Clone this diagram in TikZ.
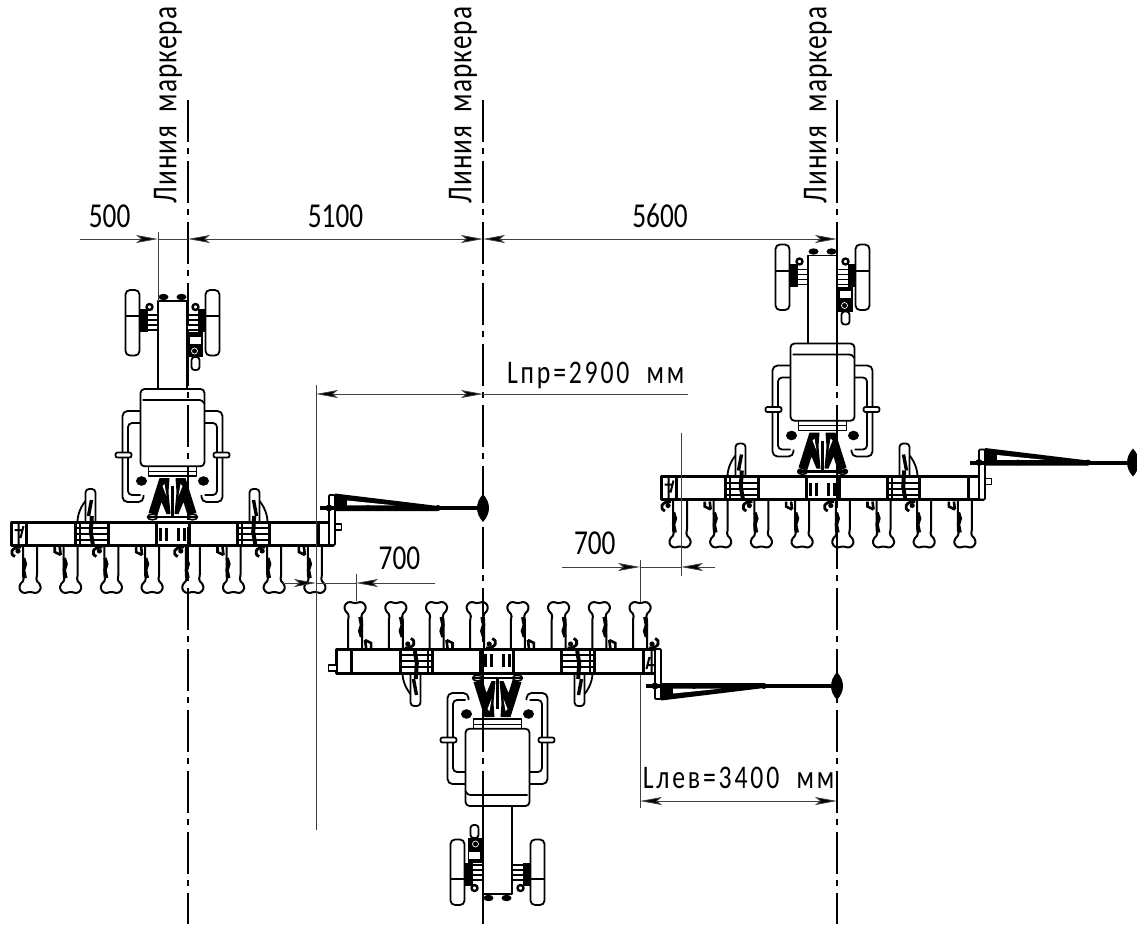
\documentclass[tikz,border=0pt]{standalone}
\usepackage{fontspec}
\setmainfont[FakeStretch=0.78]{Carlito}
\newfontfamily\widefont[FakeStretch=0.78,LetterSpace=8.5,WordSpace=2]{Carlito}
\newfontfamily\markerfont[FakeStretch=0.78,LetterSpace=3,WordSpace=1.8]{Carlito}
\usetikzlibrary{arrows.meta}

\tikzset{
  part/.style={draw=black,fill=white,line width=1.8pt,line join=round},
  tractor/.pic={
    \foreach \s in {-1,1} {
      \begin{scope}[xscale=\s]
        % wheel and axle
        \draw[part,rounded corners=4.5] (33,-232) rectangle (47,-166.5);
        \draw[part] (33,-205.7) -- (47,-205.7);
        \fill (25,-213) rectangle (33,-190);
        \draw[line width=1.6pt] (14,-207) -- (27,-207) (14,-202) -- (27,-202) (14,-197) -- (27,-197) (14,-192) -- (27,-192);
        \draw[part,line width=2.4pt] (23,-215) circle (3);
        \fill (9,-225) ellipse (5 and 3.2);
        % fender
        \draw[part,fill=none,rounded corners=5] (32,-111) -- (50,-111) -- (50,-20) -- (29,-20) -- (29,-27);
        \draw[part,fill=none,rounded corners=4] (32,-99) -- (44.5,-99) -- (44.5,-27) -- (32,-27);
        \draw[part,rounded corners=2] (41,-69.5) rectangle (57,-64.5);
        % linkage
        \fill (3,-44) -- (13,-44) -- (24,-9) -- (15,-7) -- (11,-20) -- (6,-8) -- (2,-8) -- (4,-30) -- cycle;
        \fill[white] (8,-38) -- (10,-36) -- (6,-26) -- cycle;
        \fill (31,-41) ellipse (5.5 and 4.8);
        \draw[part,line width=1.6pt] (20,-5) ellipse (5 and 2.8);
      \end{scope}
    }
    % frame
    \draw[part] (-14.2,-134) -- (-14.2,-221) -- (14.2,-221) -- (14.2,-134);
    % hitch, on one side only
    \fill (15,-190) rectangle (30,-165);
    \draw[part,line width=1pt] (17,-186) rectangle (29,-178);
    \draw[draw=white,line width=.7pt] (22,-171) circle (3);
    \draw[part,rounded corners=3] (19,-165) rectangle (27,-152);
    % hood
    \draw[part] (-24,-56) rectangle (24,-46);
    \draw[part,line width=1pt] (-24,-51) -- (24,-51);
    \draw[part,rounded corners=4] (-32,-133) rectangle (32,-55.7);
    \draw[part,rounded corners=3] (-30,-122) -- (30,-122) -- (32,-118);
    \draw[line width=2.4pt] (0,-36) -- (0,-6);
    \draw[line width=2.4pt] (-25,-5) -- (25,-5);
  },
  seeder/.pic={
    % row units
    \foreach \k in {0,...,7} {
      \pgfmathsetmacro\cx{-142.5+40.7*\k}
      \begin{scope}[xshift=\cx pt]
        \draw[part,line width=2pt,rounded corners=1.5] (-7,23) -- (-7,54) -- (-6,58) -- (-10.5,63) -- (-10.5,68) -- (-6,71.5) -- (-2,70) -- (2,70) -- (6,71.5) -- (10.5,68) -- (10.5,63) -- (6,58) -- (7,54) -- (7,23);
        \draw[line width=3.4pt] (-6.4,36) -- (-4.6,42) -- (-6.4,48) -- (-4.8,56);
        \ifodd\k
          \draw[line width=2.6pt] (-16,25) -- (-16,30) -- (-10,33) (-11,25) -- (-10,33);
        \else
          \draw[line width=2.8pt] (-9,25) .. controls (-19,25) and (-21,32) .. (-15,34.5);
          \fill (-12,29) circle (2.6);
        \fi
      \end{scope}
    }
    % folded sections
    \foreach \s in {-1,1} {
      \begin{scope}[xscale=\s]
        \draw[line width=1.8pt] (95,0) .. controls (95,-8) and (91,-17) .. (86,-22);
        \draw[part,rounded corners=3.5] (77,0) -- (77,-33) -- (87,-33) -- (87,0);
        \draw[line width=3.4pt] (81,-22) -- (84,-6);
      \end{scope}
    }
    % hoppers
    \draw[part,line width=3pt] (-161,0) rectangle (161,23.3);
    \foreach \a in {-146,-64.3,16.7,97.3} {
      \draw[part,line width=3pt] (\a,0) rectangle ++(48.7,23.3);
    }
    % couplings between the hoppers
    \foreach \a in {-96.7,65.7} {
      \draw[line width=2pt] (\a,6) -- ++(32,0) (\a,12) -- ++(32,0) (\a,18) -- ++(32,0);
      \draw[line width=4pt] (\a+16,-6) -- (\a+15,10) -- (\a+17,22);
      \draw[line width=2.4pt] (\a+4,0) -- (\a+4,23);
    }
    \foreach \a in {-12,-6,6,12} {
      \draw[line width=2.4pt] (\a,6) -- (\a,19);
    }
    % ends of the beam
    \draw[line width=2pt] (-154,0) -- (-154,23) (-158,8) -- (-150,8) (-149,4) -- (-152,16);
    \draw[part,line width=1.8pt] (161,2) rectangle (169,8);
  },
  pics/boom/.style={code={
    \draw[part,rounded corners=1] (6,-13) rectangle (12,37);
    \fill (12,-14.5) -- (115,-2) -- (115,3) -- (12,3) -- cycle;
    \fill[white] (24,-7.5) -- (72,-2.6) -- (24,-2.6) -- cycle;
    \draw[line width=4pt] (-3,0) -- (#1,0);
    \fill (6,0) circle (3.5) (45,0) circle (3) (115,0) circle (3);
    \fill (#1,-14) .. controls (#1+8,-5) and (#1+8,5) .. (#1,14) .. controls (#1-8,5) and (#1-8,-5) .. cycle;
  }},
}

\begin{document}
\begin{tikzpicture}[
    x=1pt,y=-1pt,
    >={Stealth[length=22pt,width=8pt,inset=5pt]},
    centerline/.style={line width=2.4pt,dash pattern=on 42pt off 6pt on 6pt off 7pt},
    dimline/.style={draw=black!75,line width=.8pt},
    dimtext/.style={font=\fontsize{35}{35}\selectfont,inner sep=0pt,text depth=0pt},
    widetext/.style={font=\widefont\fontsize{33}{33}\selectfont,inner sep=0pt,text depth=0pt},
    markertext/.style={font=\markerfont\fontsize{35}{35}\selectfont,inner sep=0pt,rotate=90}
    ]
\useasboundingbox (0,0) rectangle (1137,924);

% extension line that runs behind the middle machine
\coordinate (ext640top) at (640,560);
\coordinate (ext640bot) at (640,808);
\draw[dimline] (ext640top) -- (ext640bot);

% machines
\pic (leftunit) at (172.5,522) {tractor};
\pic (leftseeder) at (172.5,522) {seeder};
\pic (leftboom) at (323,508) {boom=160};
\pic (rightunit) at (822.5,476.5) {tractor};
\pic (rightseeder) at (822.5,476.5) {seeder};
\pic (rightboom) at (973,462.5) {boom=160};
\pic[rotate=180] (midunit) at (497.5,673) {tractor};
\pic[rotate=180] (midseeder) at (497.5,673) {seeder};
\pic[yscale=-1] (midboom) at (649,686) {boom=188};

% marker lines
\coordinate (line1top) at (188,100);
\coordinate (line1bot) at (188,924);
\coordinate (line2top) at (483,100);
\coordinate (line2bot) at (483,924);
\coordinate (line3top) at (837,100);
\coordinate (line3bot) at (837,924);
\draw[centerline] (line1top) -- (line1bot);
\draw[centerline] (line2top) -- (line2bot);
\draw[centerline] (line3top) -- (line3bot);
\node[markertext] (marker1) at (168,105) {Линия маркера};
\node[markertext] (marker2) at (463,105) {Линия маркера};
\node[markertext] (marker3) at (818,105) {Линия маркера};

% top dimensions
\coordinate (d0) at (80,239);
\coordinate (d1) at (158,239);
\coordinate (d2) at (188,239);
\coordinate (d3) at (483,239);
\coordinate (d4) at (837,239);
\coordinate (ext158) at (158,232);
\coordinate (ext158bot) at (158,302);
\draw[dimline] (ext158) -- (ext158bot);
\path[dimline] (d0) edge[->] node[dimtext,above=11pt,pos=.38] (t500) {500} (d1);
\path[dimline] (d1) edge (d2);
\path[dimline] (d2) edge[<->] node[dimtext,above=11pt] (t5100) {5100} (d3);
\path[dimline] (d3) edge[<->] node[dimtext,above=11pt] (t5600) {5600} (d4);

% working width, right
\coordinate (e1) at (316,394);
\coordinate (e2) at (483,394);
\coordinate (e3) at (688,394);
\coordinate (ext316top) at (316,385);
\coordinate (ext316bot) at (316,830);
\draw[dimline] (ext316top) -- (ext316bot);
\path[dimline] (e1) edge[<->] (e2);
\path[dimline] (e2) edge node[widetext,above=10pt,pos=.55] (tLpr) {Lпр=2900 мм} (e3);

% overlap, left
\coordinate (f0) at (283,583);
\coordinate (f1) at (316,583);
\coordinate (f2) at (356,583);
\coordinate (f3) at (435,583);
\coordinate (ext356top) at (356,574);
\coordinate (ext356bot) at (356,601);
\draw[dimline] (ext356top) -- (ext356bot);
\path[dimline] (f0) edge[->] (f1);
\path[dimline] (f1) edge (f2);
\path[dimline] (f3) edge[->] node[dimtext,above=13pt,pos=.45] (t700a) {700} (f2);

% overlap, right
\coordinate (g0) at (562,567);
\coordinate (g1) at (640,567);
\coordinate (g2) at (681,567);
\coordinate (g3) at (715,567);
\coordinate (ext681top) at (681,433);
\coordinate (ext681bot) at (681,576);
\draw[dimline] (ext681top) -- (ext681bot);
\path[dimline] (g0) edge[->] node[dimtext,above=12pt,pos=.42] (t700b) {700} (g1);
\path[dimline] (g1) edge (g2);
\path[dimline] (g3) edge[->] (g2);

% working width, left
\coordinate (h1) at (640,801);
\coordinate (h2) at (837,801);
\path[dimline] (h1) edge[<->] node[widetext,above=12pt] (tLlev) {Lлев=3400 мм} (h2);
\end{tikzpicture}
\end{document}
